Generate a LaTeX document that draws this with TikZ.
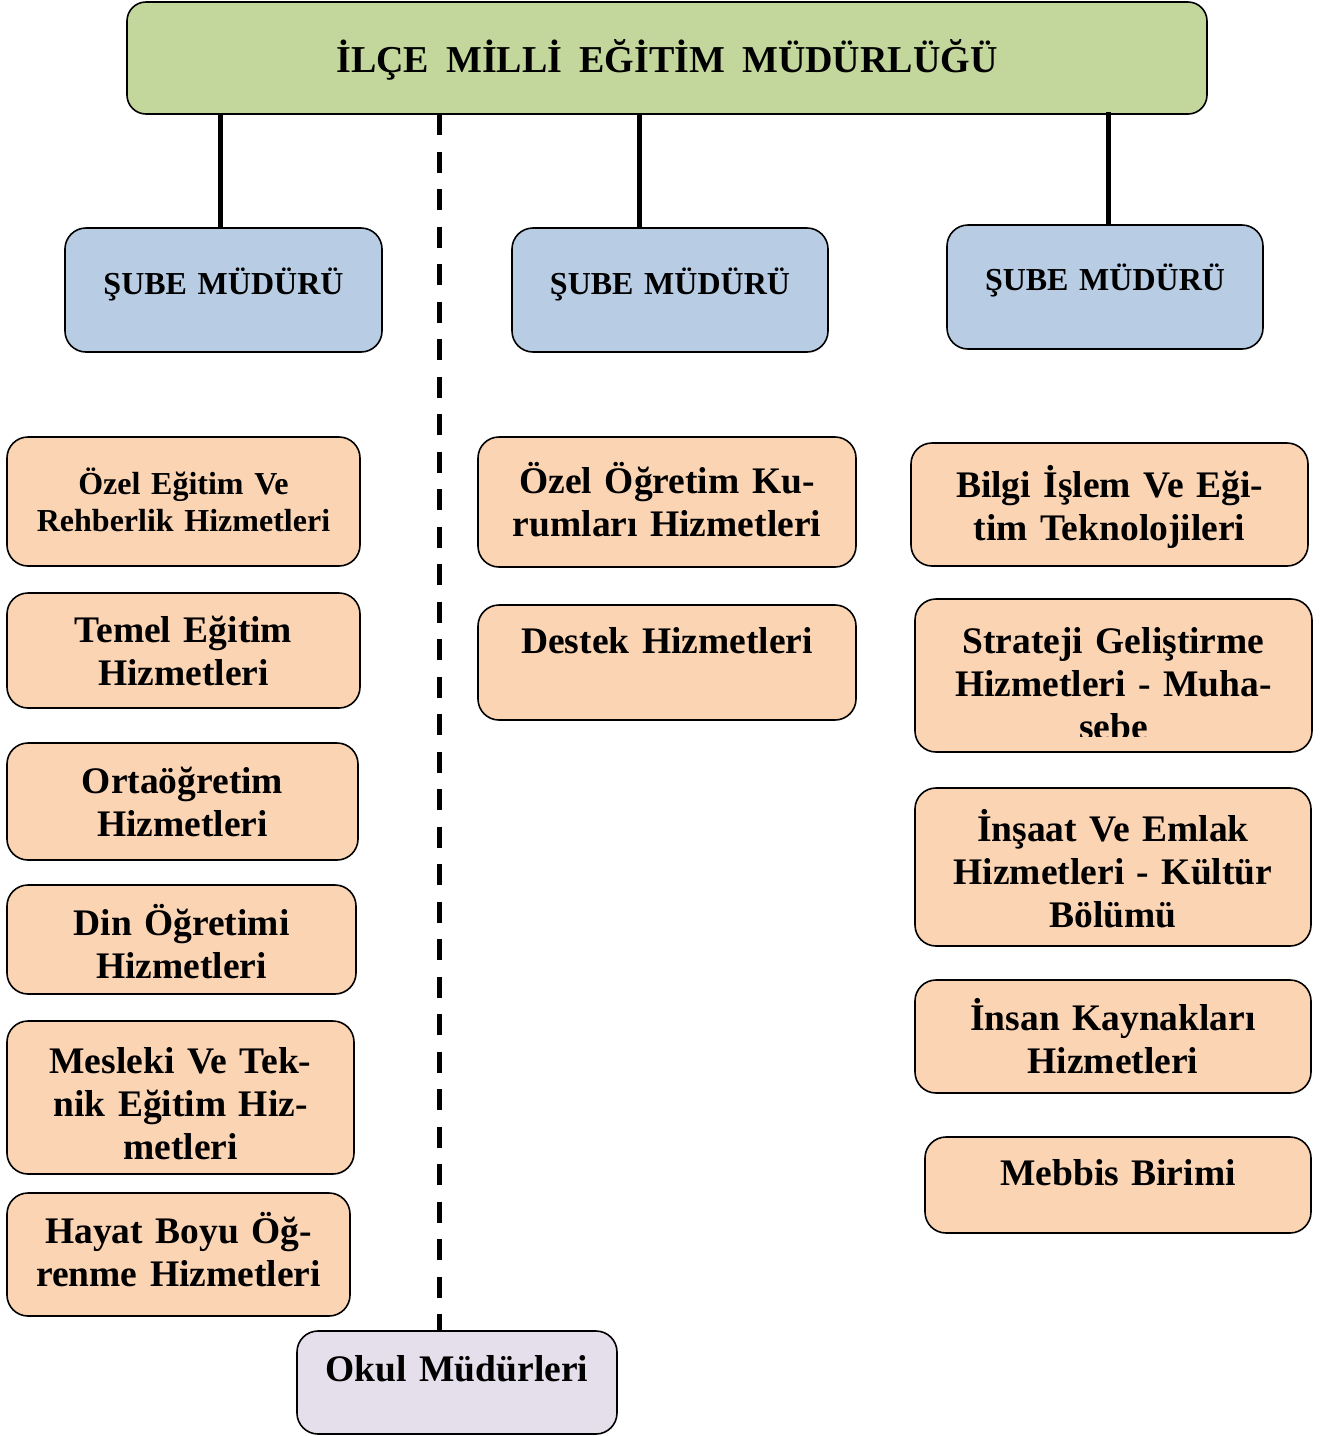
\documentclass[tikz,border=0pt]{standalone}
\usepackage{fontspec}
\setmainfont{Liberation Serif}
\usepackage{xcolor}
\usepackage{tikz}
\definecolor{mudurgreen}{HTML}{C3D69B}
\definecolor{subeblue}{HTML}{B8CCE4}
\definecolor{birimorange}{HTML}{FBD4B4}
\definecolor{okullilac}{HTML}{E5DFEC}

\begin{document}
\begin{tikzpicture}[x=1pt,y=-1pt,
  kutu/.style={draw=black, line width=1.6pt, rounded corners=21pt, inner sep=0pt, outer sep=0pt},
  birim/.style={kutu, fill=birimorange},
  yazi/.style={anchor=base, align=center, inner sep=0pt, font=\bfseries\fontsize{37.5}{43}\selectfont},
  kucukyazi/.style={yazi, font=\bfseries\fontsize{32}{37}\selectfont},
  hat/.style={line width=5pt},
  kesikhat/.style={line width=5.5pt, dash pattern=on 21pt off 16.5pt}]
  \useasboundingbox[fill=white] (0,0) rectangle (1325,1436);

  \node[kutu, fill=mudurgreen, rounded corners=19pt, minimum width=1080pt, minimum height=112pt] (mudurluk) at (667,58) {};
  \node[yazi, text width=1080pt, font=\bfseries\fontsize{38}{43}\selectfont] (mudurlukyazi) at (667,72) {İLÇE\hspace{17pt}MİLLİ\hspace{17pt}EĞİTİM\hspace{17pt}MÜDÜRLÜĞÜ};

  \node[kutu, fill=subeblue, minimum width=317pt, minimum height=124pt] (sube1) at (223.5,290) {};
  \node[kutu, fill=subeblue, minimum width=316pt, minimum height=124pt] (sube2) at (670,290) {};
  \node[kutu, fill=subeblue, minimum width=316pt, minimum height=124pt] (sube3) at (1105,287) {};
  \node[kucukyazi, text width=317pt] (sube1yazi) at (223.5,294) {ŞUBE MÜDÜRÜ};
  \node[kucukyazi, text width=316pt] (sube2yazi) at (670,294) {ŞUBE MÜDÜRÜ};
  \node[kucukyazi, text width=316pt] (sube3yazi) at (1105,290) {ŞUBE MÜDÜRÜ};

  \node[birim, minimum width=353pt, minimum height=129pt] (ozelegitim) at (183.5,501.5) {};
  \node[birim, minimum width=353pt, minimum height=115pt] (temelegitim) at (183.5,650.5) {};
  \node[birim, minimum width=351pt, minimum height=117pt] (ortaogretim) at (182.5,801.5) {};
  \node[birim, minimum width=349pt, minimum height=109pt] (dinogretimi) at (181.5,939.5) {};
  \node[birim, minimum width=347pt, minimum height=153pt] (mesleki) at (180.5,1097.5) {};
  \node[birim, minimum width=343pt, minimum height=123pt] (hayatboyu) at (178.5,1254.5) {};
  \node[kucukyazi, text width=353pt] (ozelegitimyazi) at (183.5,494) {Özel Eğitim Ve\\Rehberlik Hizmetleri};
  \node[yazi, text width=353pt] (temelegitimyazi) at (183.5,642) {Temel Eğitim\\Hizmetleri};
  \node[yazi, text width=351pt] (ortaogretimyazi) at (182.5,793) {Ortaöğretim\\Hizmetleri};
  \node[yazi, text width=349pt] (dinogretimiyazi) at (181.5,935) {Din Öğretimi\\Hizmetleri};
  \node[yazi, text width=347pt] (meslekiyazi) at (180.5,1073) {Mesleki Ve Tek-\\nik Eğitim Hiz-\\metleri};
  \node[yazi, text width=343pt] (hayatboyuyazi) at (178.5,1243) {Hayat Boyu Öğ-\\renme Hizmetleri};

  \node[birim, minimum width=378pt, minimum height=130pt] (ozelogretim) at (667,502) {};
  \node[birim, minimum width=378pt, minimum height=115pt] (destek) at (667,662.5) {};
  \node[yazi, text width=378pt] (ozelogretimyazi) at (667,493) {Özel Öğretim Ku-\\rumları Hizmetleri};
  \node[yazi, text width=378pt] (destekyazi) at (667,653) {Destek Hizmetleri};

  \node[birim, minimum width=397pt, minimum height=123pt] (bilgiislem) at (1109.5,504.5) {};
  \node[birim, minimum width=397pt, minimum height=153pt] (strateji) at (1113.5,675.5) {};
  \node[birim, minimum width=396pt, minimum height=158pt] (insaat) at (1113,867) {};
  \node[birim, minimum width=396pt, minimum height=113pt] (insankaynaklari) at (1113,1036.5) {};
  \node[birim, minimum width=386pt, minimum height=96pt] (mebbis) at (1118,1185) {};
  \node[yazi, text width=397pt] (bilgiislemyazi) at (1109.5,497) {Bilgi İşlem Ve Eği-\\tim Teknolojileri};
  \begin{scope}
    \clip ([yshift=16pt]strateji.south west) rectangle (strateji.north east);
    \node[yazi, text width=397pt] (stratejiyazi) at (1113.5,653) {Strateji Geliştirme\\Hizmetleri - Muha-\\sebe};
  \end{scope}
  \node[yazi, text width=396pt] (insaatyazi) at (1113,841) {İnşaat Ve Emlak\\Hizmetleri - Kültür\\Bölümü};
  \node[yazi, text width=396pt] (insankaynaklariyazi) at (1113,1030) {İnsan Kaynakları\\Hizmetleri};
  \node[yazi, text width=386pt] (mebbisyazi) at (1118,1185) {Mebbis Birimi};

  \node[kutu, fill=okullilac, minimum width=320pt, minimum height=103pt] (okul) at (457,1382.5) {};
  \node[yazi, text width=320pt] (okulyazi) at (457,1381) {Okul Müdürleri};

  \coordinate (hat1) at (220,0);
  \coordinate (hat2) at (639,0);
  \coordinate (hat3) at (1108,0);
  \coordinate (hatokul) at (439.5,0);
  \draw[hat] (mudurluk.south -| hat1) -- (sube1.north -| hat1);
  \draw[hat] (mudurluk.south -| hat2) -- (sube2.north -| hat2);
  \draw[hat] ([yshift=2pt]mudurluk.south -| hat3) -- (sube3.north -| hat3);
  \draw[kesikhat] (mudurluk.south -| hatokul) -- (okul.north -| hatokul);
\end{tikzpicture}
\end{document}
